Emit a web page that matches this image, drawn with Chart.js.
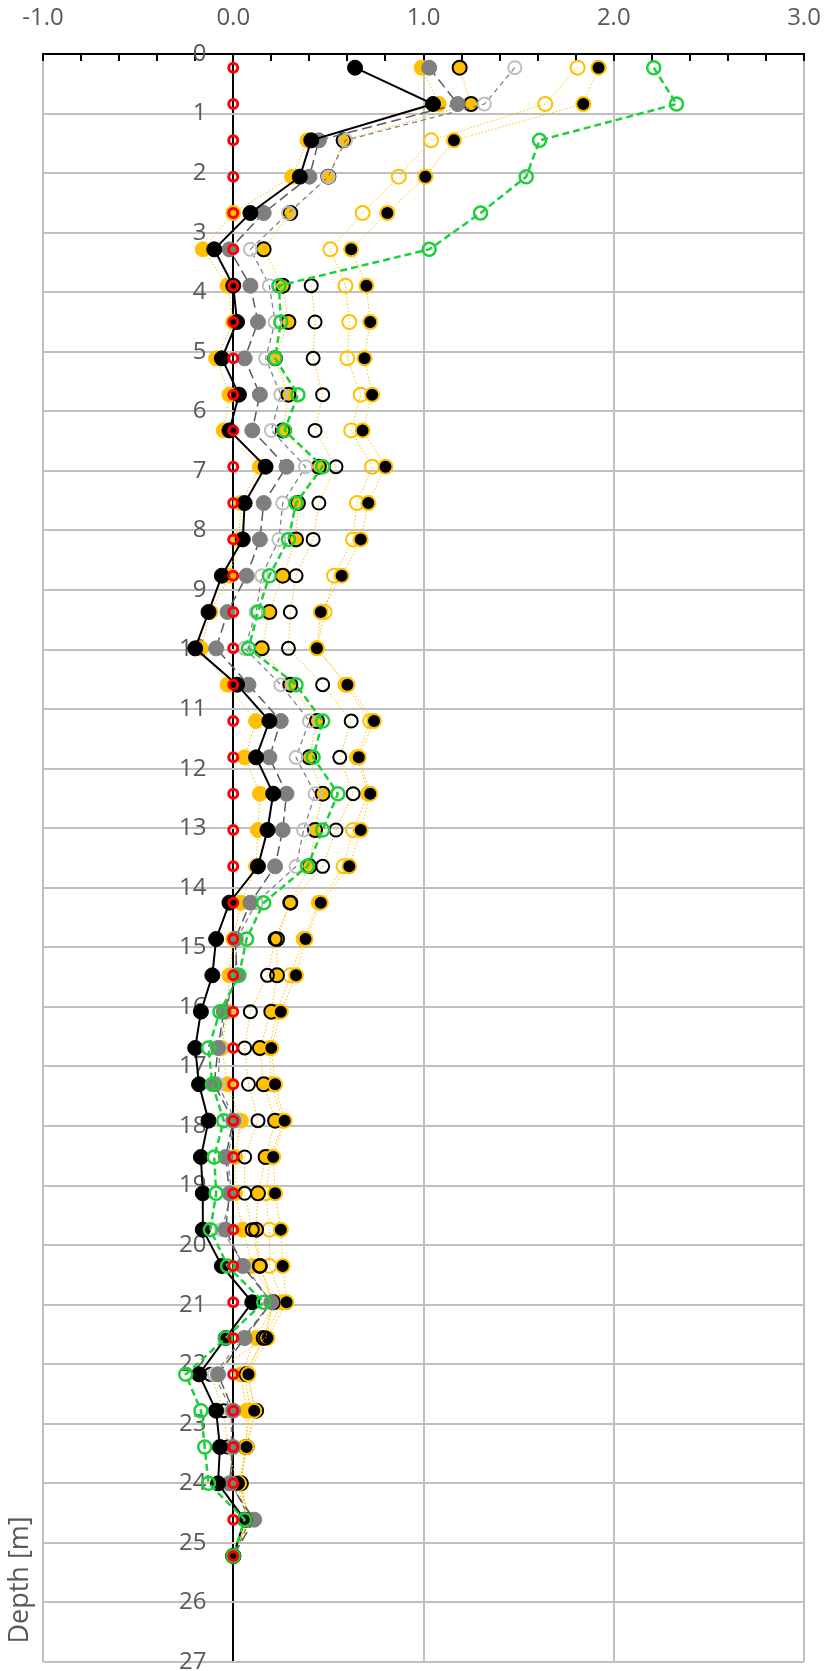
<!DOCTYPE html>
<html>
<head>
<meta charset="utf-8">
<script src="https://cdn.jsdelivr.net/npm/chart.js@4.4.1/dist/chart.umd.min.js"></script>
<style>
html, body { margin: 0; padding: 0; background: #fff; }
canvas { display: block; }
</style>
</head>
<body>
<canvas id="grafico" width="826" height="1671" style="width:826px;height:1671px"></canvas>
<script>
// profundidades (m)
var depth = [0.23, 0.84, 1.45, 2.06, 2.67, 3.28, 3.89, 4.50, 5.11, 5.72, 6.32, 6.93, 7.54, 8.15, 8.76, 9.37, 9.98, 10.59, 11.20, 11.81,
    12.42, 13.03, 13.64, 14.25, 14.86, 15.47, 16.08, 16.69, 17.30, 17.91, 18.52, 19.13, 19.74, 20.35, 20.96, 21.56,
    22.17, 22.78, 23.39, 24.00, 24.61, 25.22];

// series
var negroSolido = [0.64, 1.05, 0.41, 0.35, 0.09, -0.10, 0.00, 0.02, -0.06, 0.03, -0.02, 0.17, 0.06, 0.05, -0.06, -0.13, -0.20, 0.02, 0.19, 0.12,
    0.21, 0.18, 0.13, -0.02, -0.09, -0.11, -0.17, -0.20, -0.18, -0.13, -0.17, -0.16, -0.16, -0.06, 0.10, -0.04,
    -0.18, -0.09, -0.07, -0.08, 0.06, 0.00];
var grisOscuro = [1.03, 1.18, 0.45, 0.40, 0.16, -0.02, 0.09, 0.13, 0.06, 0.14, 0.10, 0.28, 0.16, 0.14, 0.07, -0.03, -0.09, 0.08, 0.25, 0.19,
    0.28, 0.26, 0.22, 0.09, 0.01, 0.02, -0.05, -0.08, -0.10, 0.00, -0.04, -0.02, -0.04, 0.05, 0.20, 0.06,
    -0.08, 0.00, 0.00, -0.02, 0.11, 0.00];
var grisClaro = [1.48, 1.32, 0.59, 0.50, 0.29, 0.09, 0.19, 0.22, 0.17, 0.25, 0.20, 0.38, 0.26, 0.24, 0.15, 0.12, 0.06, 0.25, 0.40, 0.33,
    0.43, 0.37, 0.33, 0.12, 0.02, 0.01, -0.04, -0.07, -0.08, 0.01, -0.03, -0.01, -0.06, 0.06, 0.20, 0.05,
    -0.10, -0.01, -0.01, -0.01, 0.09, 0.00];
var negroHueco = [null, null, null, null, null, null, 0.41, 0.43, 0.42, 0.47, 0.43, 0.54, 0.45, 0.42, 0.33, 0.30, 0.29, 0.47, 0.62, 0.56,
    0.63, 0.54, 0.47, 0.30, 0.22, 0.18, 0.09, 0.06, 0.08, 0.13, 0.06, 0.06, 0.10, 0.14, 0.21, 0.17,
    -0.12, -0.05, -0.03, 0.02, 0.07, 0.00];
var naranjaBordeNegro = [1.19, 1.25, 0.58, 0.50, 0.30, 0.16, 0.26, 0.29, 0.22, 0.29, 0.26, 0.45, 0.34, 0.33, 0.26, 0.19, 0.15, 0.30, 0.44, 0.40,
    0.47, 0.43, 0.40, 0.30, 0.23, 0.23, 0.20, 0.14, 0.16, 0.22, 0.17, 0.13, 0.12, 0.14, 0.21, 0.16,
    0.07, 0.12, 0.07, 0.04, 0.08, 0.00];
var naranjaHueco = [1.81, 1.64, 1.04, 0.87, 0.68, 0.51, 0.59, 0.61, 0.60, 0.67, 0.62, 0.73, 0.65, 0.63, 0.53, 0.48, 0.44, 0.59, 0.72, 0.65,
    0.71, 0.63, 0.58, 0.45, 0.37, 0.30, 0.23, 0.19, 0.20, 0.26, 0.20, 0.17, 0.19, 0.19, 0.26, 0.16,
    0.06, 0.09, 0.06, 0.04, 0.08, 0.00];
var negroBordeNaranja = [1.92, 1.84, 1.16, 1.01, 0.81, 0.62, 0.70, 0.72, 0.69, 0.73, 0.68, 0.80, 0.71, 0.67, 0.57, 0.46, 0.44, 0.60, 0.74, 0.66,
    0.72, 0.67, 0.61, 0.46, 0.38, 0.33, 0.25, 0.20, 0.22, 0.27, 0.21, 0.22, 0.25, 0.26, 0.28, 0.18,
    0.08, 0.11, 0.07, 0.03, 0.08, 0.00];
var naranjaRelleno = [0.99, 1.08, 0.39, 0.31, 0.00, -0.16, -0.03, 0.00, -0.09, -0.02, -0.05, 0.14, 0.04, 0.03, -0.02, -0.12, -0.17, -0.03, 0.12, 0.06,
    0.14, 0.13, 0.12, 0.04, 0.00, -0.02, -0.03, -0.06, -0.03, 0.04, 0.01, 0.01, 0.05, 0.10, 0.22, 0.12,
    0.04, 0.07, 0.07, 0.04, 0.08, 0.00];
var verde = [2.21, 2.33, 1.61, 1.54, 1.30, 1.03, 0.24, 0.25, 0.22, 0.34, 0.27, 0.47, 0.33, 0.29, 0.19, 0.13, 0.08, 0.33, 0.47, 0.42,
    0.55, 0.47, 0.39, 0.16, 0.07, 0.03, -0.07, -0.13, -0.11, -0.05, -0.10, -0.09, -0.12, -0.03, 0.16, -0.04,
    -0.25, -0.17, -0.15, -0.13, 0.06, 0.00];
var rojo = [0, 0, 0, 0, 0, 0, 0, 0, 0, 0, 0, 0, 0, 0, 0, 0, 0, 0, 0, 0,
    0, 0, 0, 0, 0, 0, 0, 0, 0, 0, 0, 0, 0, 0, 0, 0,
    0, 0, 0, 0, 0, 0];

var tituloY = 'Depth [m]';
var fuente = '"Open Sans", "Noto Sans", sans-serif';
var naranja = '#ffc000';
var transparente = 'rgba(0,0,0,0)';

function puntos(valores) {
    var res = [];
    for (var i = 0; i < depth.length; i++) {
        if (valores[i] !== null) res.push({ x: valores[i], y: depth[i] });
    }
    return res;
}

function esEntero(v) {
    return Math.abs(v - Math.round(v)) < 1e-6;
}

// linea punteada naranja comun
function serieNaranja(valores, relleno, borde, ancho, radio) {
    return {
        data: puntos(valores),
        showLine: true,
        borderColor: naranja,
        borderWidth: 1,
        borderDash: [1.5, 2],
        pointRadius: radio,
        pointBackgroundColor: relleno,
        pointBorderColor: borde,
        pointBorderWidth: ancho
    };
}

// titulo del eje y (abajo a la izquierda como en el original)
var tituloEje = {
    id: 'tituloEje',
    afterDraw: function(chart) {
        var ctx = chart.ctx;
        ctx.save();
        ctx.translate(20, 1580);
        ctx.rotate(-Math.PI / 2);
        ctx.font = '27px ' + fuente;
        ctx.fillStyle = '#595959';
        ctx.textAlign = 'center';
        ctx.textBaseline = 'middle';
        ctx.fillText(tituloY, 0, 0);
        ctx.restore();
    }
};

function chartCreate() {
    const data = {
        datasets: [{
            // rojo: referencia en 0
            data: puntos(rojo),
            showLine: false,
            pointRadius: 4.5,
            pointBackgroundColor: transparente,
            pointBorderColor: '#ff0000',
            pointBorderWidth: 3
        }, {
            data: puntos(verde),
            showLine: true,
            borderColor: '#1ecf3c',
            borderWidth: 2.5,
            borderDash: [7, 4],
            pointRadius: 6.5,
            pointBackgroundColor: transparente,
            pointBorderColor: '#1ecf3c',
            pointBorderWidth: 2.5
        }, {
            data: puntos(negroSolido),
            showLine: true,
            borderColor: '#000',
            borderWidth: 2,
            pointRadius: 7.5,
            pointBackgroundColor: '#000',
            pointBorderColor: '#000',
            pointBorderWidth: 1
        }, {
            data: puntos(grisOscuro),
            showLine: true,
            borderColor: '#595959',
            borderWidth: 1.5,
            borderDash: [10, 5],
            pointRadius: 7.5,
            pointBackgroundColor: '#7f7f7f',
            pointBorderColor: '#7f7f7f',
            pointBorderWidth: 1
        }, {
            data: puntos(grisClaro),
            showLine: true,
            borderColor: '#7f7f7f',
            borderWidth: 1.25,
            borderDash: [5, 4],
            pointRadius: 6.5,
            pointBackgroundColor: transparente,
            pointBorderColor: '#bfbfbf',
            pointBorderWidth: 2
        },
            serieNaranja(negroHueco, transparente, '#000', 2, 6.5),
            serieNaranja(negroBordeNaranja, '#000', naranja, 2, 7),
            serieNaranja(naranjaBordeNegro, naranja, '#000', 2, 7),
            serieNaranja(naranjaHueco, transparente, naranja, 2, 7),
            serieNaranja(naranjaRelleno, naranja, naranja, 1, 7.5)
        ]
    };
    const config = {
        type: 'scatter',
        data: data,
        plugins: [tituloEje],
        options: {
            responsive: false,
            animation: false,
            devicePixelRatio: 1,
            layout: { padding: { left: 0, right: 22, top: 0, bottom: 9 } },
            plugins: { legend: { display: false }, tooltip: { enabled: false } },
            scales: {
                x: {
                    type: 'linear',
                    position: 'top',
                    min: -1,
                    max: 3,
                    afterFit: function(s) { s.height = 54; s.paddingLeft = 0; s.paddingRight = 0; },
                    ticks: {
                        stepSize: 0.2,
                        autoSkip: false,
                        maxRotation: 0,
                        padding: 28,
                        color: '#595959',
                        font: { family: fuente, size: 24 },
                        callback: function(v) { return esEntero(v) ? Number(v).toFixed(1) : ''; }
                    },
                    grid: {
                        color: function(ctx) {
                            var v = ctx.tick.value;
                            if (Math.abs(v) < 1e-6) return '#000';
                            return esEntero(v) ? '#c0c0c0' : transparente;
                        },
                        lineWidth: 2,
                        drawTicks: true,
                        tickLength: -7,
                        tickColor: '#000',
                        tickWidth: 2
                    },
                    border: { display: true, color: '#000', width: 2 }
                },
                y: {
                    type: 'linear',
                    position: 'left',
                    reverse: true,
                    min: 0,
                    max: 27,
                    afterFit: function(s) { s.width = 43; s.paddingTop = 0; s.paddingBottom = 0; },
                    ticks: {
                        stepSize: 1,
                        autoSkip: false,
                        mirror: true,
                        crossAlign: 'far',
                        padding: 136,
                        color: '#595959',
                        font: { family: fuente, size: 24 }
                    },
                    grid: {
                        color: function(ctx) { return ctx.tick.value === 0 ? transparente : '#c0c0c0'; },
                        lineWidth: 2,
                        drawTicks: false,
                        z: -1
                    },
                    border: { display: false }
                }
            }
        }
    };
    const grafico = new Chart(document.getElementById('grafico'), config);
}

window.onload = function() {
    chartCreate();
}
</script>
</body>
</html>
